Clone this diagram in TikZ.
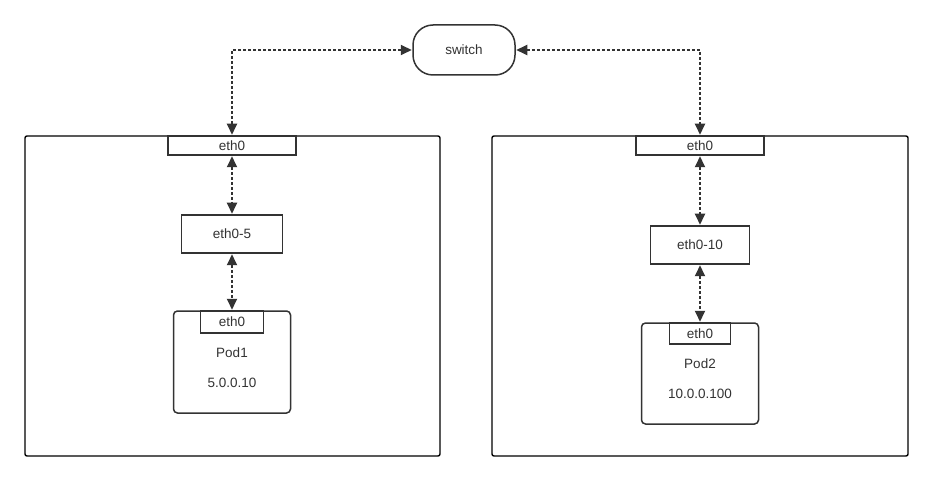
\documentclass[tikz,border=0pt]{standalone}
\usepackage{fontspec}
\setmainfont{Liberation Sans}
\usetikzlibrary{arrows.meta}
\definecolor{ink}{HTML}{333333}
\tikzset{
  box/.style={draw=ink, line width=1.5pt, fill=white, inner sep=0pt, text=ink, font=\fontsize{13.5}{16}\selectfont},
  big/.style={draw=black, line width=1.4pt, rounded corners=2pt, inner sep=0pt},
  link/.style={draw=ink, line width=1.9pt, dash pattern=on 3pt off 2pt, {Triangle[length=11pt,width=10pt]}-{Triangle[length=11pt,width=10pt]}, shorten <=0.5pt, shorten >=0.5pt},
  lbl/.style={text=ink, font=\fontsize{13.5}{16}\selectfont, inner sep=0pt}
}
\begin{document}
\begin{tikzpicture}[x=1pt,y=-1pt]
\useasboundingbox (0,0) rectangle (932,481);
% big boxes
\node[big, minimum width=415pt, minimum height=320pt] (L) at (232.5,296) {};
\node[big, minimum width=416pt, minimum height=320pt] (R) at (700,296) {};
% switch
\node[box, rounded corners=20pt, minimum width=102pt, minimum height=50pt] (sw) at (464,50) {switch};
% left host
\node[box, minimum width=128pt, minimum height=19pt] (le) at (232,145.5) {eth0};
\node[box, minimum width=101pt, minimum height=38pt] (e5) at (232,234) {eth0-5};
\node[box, rounded corners=4pt, minimum width=117pt, minimum height=102pt] (p1) at (232,362) {};
\node[box, minimum width=63pt, minimum height=22pt] (p1e) at (232,322) {eth0};
\node[lbl] (p1n) at (232,353) {Pod1};
\node[lbl] (p1ip) at (232,383) {5.0.0.10};
% right host
\node[box, minimum width=128pt, minimum height=19pt] (re) at (700,145.5) {eth0};
\node[box, minimum width=99pt, minimum height=38pt] (e10) at (700,245) {eth0-10};
\node[box, rounded corners=4pt, minimum width=117pt, minimum height=101pt] (p2) at (700,373.5) {};
\node[box, minimum width=61pt, minimum height=21pt] (p2e) at (700,333.5) {eth0};
\node[lbl] (p2n) at (700,364) {Pod2};
\node[lbl] (p2ip) at (700,394) {10.0.0.100};
% connectors
\draw[link] (sw.west) -| (le.north);
\draw[link] (sw.east) -| (re.north);
\draw[link] (le.south) -- (le.south |- e5.north);
\draw[link] (e5.south) -- (e5.south |- p1e.north);
\draw[link] (re.south) -- (re.south |- e10.north);
\draw[link] (e10.south) -- (e10.south |- p2e.north);
\end{tikzpicture}
\end{document}
